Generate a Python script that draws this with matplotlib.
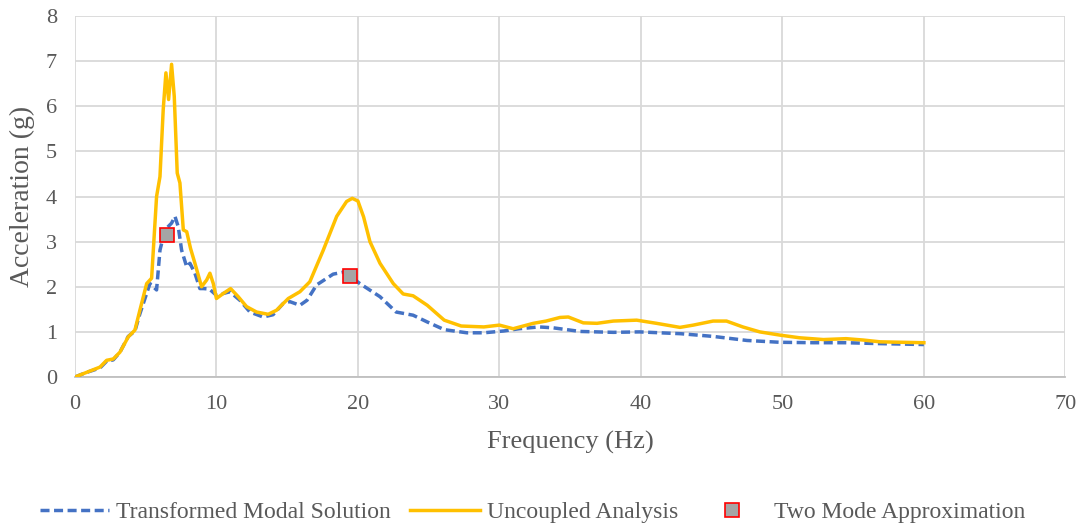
import matplotlib.pyplot as plt

plt.rcParams['font.family'] = ['Liberation Serif', 'DejaVu Serif']

# Uncoupled Analysis (yellow)
unc_x = [0.0, 0.8, 1.77, 2.24, 2.71, 3.18, 3.77, 4.24, 4.59, 5.07, 5.42, 5.77, 6.01,
         6.24, 6.43, 6.62, 6.83, 7.02, 7.23, 7.42, 7.66, 7.9, 8.17, 8.48, 8.95, 9.31,
         9.54, 9.78, 10.0, 10.48, 11.0, 11.54, 12.13, 12.84, 13.66, 14.25, 15.08, 15.9,
         16.6, 17.55, 18.5, 19.2, 19.6, 20.0, 20.4, 20.85, 21.56, 22.5, 23.2, 23.9, 24.9,
         26.1, 27.3, 28.9, 30.0, 30.97, 32.4, 33.3, 34.28, 34.87, 35.93, 36.9, 38.05,
         39.7, 41.1, 42.76, 43.7, 45.1, 46.05, 47.2, 48.4, 49.8, 51.2, 52.9, 54.5,
         55.7, 56.9, 60.0]
unc_y = [0.0, 0.1, 0.22, 0.37, 0.40, 0.55, 0.89, 1.04, 1.48, 2.07, 2.19, 4.0, 4.44,
         5.93, 6.74, 6.15, 6.93, 6.22, 4.52, 4.30, 3.26, 3.22, 2.85, 2.52, 2.0, 2.15,
         2.30, 2.07, 1.74, 1.85, 1.96, 1.78, 1.56, 1.44, 1.39, 1.48, 1.74, 1.89,
         2.11, 2.81, 3.56, 3.89, 3.96, 3.90, 3.55, 3.0, 2.52, 2.07, 1.84, 1.80, 1.59,
         1.26, 1.13, 1.11, 1.15, 1.07, 1.19, 1.24, 1.32, 1.33, 1.20, 1.19, 1.24,
         1.26, 1.19, 1.10, 1.15, 1.24, 1.24, 1.11, 1.0, 0.93, 0.87, 0.83, 0.85,
         0.82, 0.78, 0.76]

# Transformed Modal Solution (blue dashed)
tms_x = [0.0, 0.8, 1.77, 2.24, 2.71, 3.18, 3.77, 4.24, 4.59, 5.3, 5.77, 6.01, 6.36,
         6.83, 7.07, 7.3, 7.54, 7.9, 8.13, 8.48, 8.83, 9.07, 9.5, 10.0, 10.95, 11.66,
         12.37, 13.3, 14.0, 14.72, 15.19, 15.9, 16.4, 17.08, 18.25, 19.08, 20.14,
         21.56, 22.7, 23.9, 24.9, 26.1, 27.7, 28.9, 30.3, 31.4, 32.8, 33.8, 35.7,
         38.05, 39.9, 42.8, 45.1, 47.5, 49.8, 52.2, 54.5, 56.9, 60.0]
tms_y = [0.0, 0.1, 0.2, 0.35, 0.38, 0.55, 0.9, 1.02, 1.40, 2.07, 1.93, 2.81, 3.26,
         3.41, 3.56, 3.33, 2.81, 2.44, 2.52, 2.30, 1.96, 1.96, 1.95, 1.81, 1.89, 1.70,
         1.44, 1.33, 1.38, 1.63, 1.67, 1.59, 1.70, 2.04, 2.28, 2.33, 2.07,
         1.78, 1.44, 1.37, 1.22, 1.05, 0.98, 0.98, 1.02, 1.07, 1.11, 1.09, 1.01,
         0.99, 1.0, 0.96, 0.90, 0.81, 0.77, 0.76, 0.76, 0.74, 0.72]

# Two Mode Approximation
tma_x = [6.5, 19.45]
tma_y = [3.15, 2.24]

fig = plt.figure(figsize=(10.86, 5.27), dpi=100)
ax = fig.add_axes([0.069, 0.2846, 0.912, 0.685])

ax.plot(tms_x, tms_y, color='#4472C4', linewidth=2.5, linestyle=(0, (2.6, 1.3)),
        label='Transformed Modal Solution', zorder=3)
ax.plot(unc_x, unc_y, color='#FFC000', linewidth=2.5,
        label='Uncoupled Analysis', zorder=4)
ax.plot(tma_x, tma_y, linestyle='none', marker='s', markersize=10,
        markerfacecolor='#A5A5A5', markeredgecolor='#FF0000', markeredgewidth=1.2,
        label='Two Mode Approximation', zorder=5)

ax.set_xlim(0, 70)
ax.set_ylim(0, 8)
ax.set_xticks(range(0, 71, 10))
ax.set_yticks(range(0, 9))
ax.grid(True, color='#D9D9D9', linewidth=1.3)
ax.set_axisbelow(True)
for s in ['top', 'right', 'left']:
    ax.spines[s].set_visible(False)
ax.spines['bottom'].set_color('#BFBFBF')
ax.spines['bottom'].set_linewidth(1.3)
ax.tick_params(length=0, labelsize=16, colors='#595959', pad=13)
ax.set_xlabel('Frequency (Hz)', fontsize=19, color='#595959', labelpad=12)
ax.set_ylabel('Acceleration (g)', fontsize=20, color='#595959', labelpad=8)

fig.legend(loc='center', bbox_to_anchor=(0.49, 0.028), ncol=3, frameon=False,
           fontsize=17, labelcolor='#595959', handlelength=2.95, columnspacing=0.8,
           handletextpad=0.3)

fig.savefig('out.png', dpi=100)
